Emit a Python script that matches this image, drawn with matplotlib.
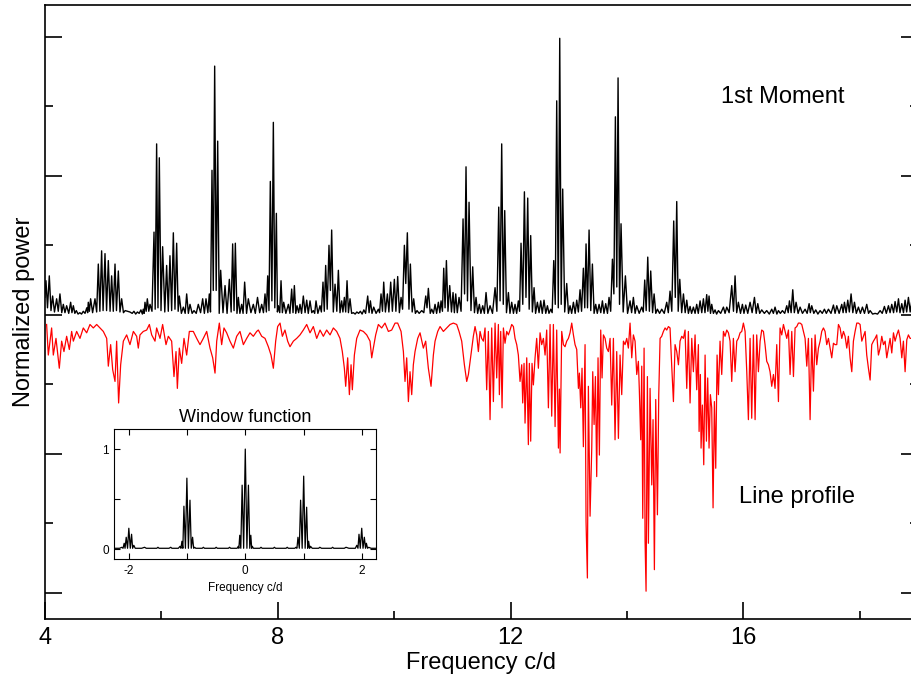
import numpy as np
import matplotlib
matplotlib.use('Agg')
import matplotlib.pyplot as plt

plt.rcParams['font.family'] = ['Liberation Sans', 'DejaVu Sans']
plt.rcParams['axes.unicode_minus'] = False

#%% data
# 1st moment periodogram: (frequency c/d, normalized power)
moment_pts = [
    (4.00, 0.25), (4.019, 0.49), (4.045, 0.10), (4.076, 0.56), (4.105, 0.06), (4.133, 0.27), (4.165, 0.04),
    (4.202, 0.23), (4.23, 0.05), (4.259, 0.30), (4.29, 0.03), (4.317, 0.15), (4.345, 0.03), (4.374, 0.13),
    (4.41, 0.02), (4.443, 0.18), (4.465, 0.03), (4.489, 0.13), (4.515, 0.02), (4.54, 0.06), (4.57, 0.01),
    (4.60, 0.03), (4.63, 0.01), (4.66, 0.05), (4.69, 0.02), (4.72, 0.10), (4.735, 0.03), (4.746, 0.18),
    (4.765, 0.05), (4.786, 0.23), (4.82, 0.03), (4.861, 0.23), (4.89, 0.04), (4.918, 0.73), (4.945, 0.05),
    (4.975, 0.92), (5.00, 0.06), (5.033, 0.88), (5.06, 0.06), (5.09, 0.78), (5.12, 0.05), (5.147, 0.56),
    (5.175, 0.05), (5.205, 0.73), (5.23, 0.06), (5.262, 0.63), (5.29, 0.04), (5.319, 0.23), (5.35, 0.03),
    (5.38, 0.06), (5.42, 0.05), (5.46, 0.04), (5.50, 0.02), (5.53, 0.05), (5.56, 0.01), (5.59, 0.04),
    (5.62, 0.02), (5.65, 0.07), (5.675, 0.01), (5.69, 0.08), (5.705, 0.02), (5.72, 0.18), (5.74, 0.05),
    (5.76, 0.23), (5.785, 0.05), (5.806, 0.15), (5.84, 0.05), (5.875, 1.19), (5.895, 0.08), (5.92, 2.46),
    (5.943, 0.10), (5.966, 2.26), (5.995, 0.06), (6.023, 0.98), (6.06, 0.04), (6.092, 0.71), (6.12, 0.05),
    (6.149, 0.85), (6.178, 0.06), (6.207, 1.18), (6.235, 0.08), (6.264, 1.03), (6.29, 0.05), (6.31, 0.27),
    (6.345, 0.02), (6.379, 0.11), (6.41, 0.02), (6.436, 0.30), (6.465, 0.02), (6.493, 0.15), (6.53, 0.02),
    (6.562, 0.06), (6.60, 0.02), (6.636, 0.15), (6.675, 0.03), (6.711, 0.23), (6.74, 0.02), (6.768, 0.23),
    (6.80, 0.03), (6.825, 0.30), (6.845, 0.04), (6.871, 2.08), (6.893, 0.35), (6.917, 3.58), (6.943, 0.35),
    (6.969, 2.50), (6.995, 0.02), (7.02, 0.64), (7.06, 0.03), (7.095, 0.42), (7.13, 0.02), (7.169, 0.51),
    (7.20, 0.04), (7.226, 1.02), (7.25, 0.06), (7.272, 1.03), (7.30, 0.02), (7.324, 0.25), (7.35, 0.02),
    (7.381, 0.15), (7.405, 0.02), (7.432, 0.47), (7.465, 0.02), (7.495, 0.23), (7.54, 0.03), (7.581, 0.15),
    (7.615, 0.02), (7.653, 0.25), (7.69, 0.03), (7.725, 0.15), (7.755, 0.03), (7.782, 0.30), (7.805, 0.04),
    (7.828, 0.56), (7.85, 0.06), (7.873, 1.92), (7.90, 0.20), (7.925, 2.77), (7.95, 0.10), (7.977, 1.46),
    (7.995, 0.04), (8.011, 0.13), (8.035, 0.03), (8.057, 0.49), (8.08, 0.03), (8.103, 0.18), (8.14, 0.02),
    (8.183, 0.15), (8.21, 0.02), (8.24, 0.37), (8.263, 0.03), (8.286, 0.42), (8.31, 0.02), (8.332, 0.13),
    (8.36, 0.03), (8.383, 0.15), (8.41, 0.02), (8.44, 0.27), (8.47, 0.03), (8.498, 0.21), (8.525, 0.02),
    (8.555, 0.20), (8.585, 0.03), (8.612, 0.06), (8.635, 0.02), (8.658, 0.20), (8.69, 0.02), (8.727, 0.13),
    (8.75, 0.04), (8.778, 0.47), (8.80, 0.05), (8.824, 0.71), (8.85, 0.08), (8.881, 1.00), (8.905, 0.35),
    (8.927, 1.22), (8.955, 0.04), (8.985, 0.44), (9.015, 0.05), (9.042, 0.64), (9.07, 0.03), (9.099, 0.20),
    (9.12, 0.04), (9.145, 0.25), (9.168, 0.04), (9.191, 0.49), (9.215, 0.03), (9.242, 0.23), (9.27, 0.02),
    (9.30, 0.03), (9.33, 0.01), (9.36, 0.04), (9.39, 0.02), (9.42, 0.05), (9.45, 0.01), (9.48, 0.07),
    (9.51, 0.02), (9.546, 0.27), (9.57, 0.03), (9.592, 0.20), (9.62, 0.02), (9.649, 0.11), (9.69, 0.02),
    (9.729, 0.08), (9.75, 0.03), (9.775, 0.30), (9.80, 0.05), (9.821, 0.47), (9.85, 0.04), (9.884, 0.30),
    (9.91, 0.04), (9.941, 0.47), (9.97, 0.05), (10.004, 0.51), (10.03, 0.05), (10.061, 0.55), (10.09, 0.03),
    (10.119, 0.25), (10.145, 0.08), (10.176, 1.00), (10.20, 0.45), (10.227, 1.18), (10.255, 0.08),
    (10.279, 0.73), (10.31, 0.04), (10.336, 0.23), (10.365, 0.02), (10.393, 0.06), (10.43, 0.02),
    (10.474, 0.06), (10.51, 0.03), (10.543, 0.27), (10.565, 0.10), (10.588, 0.38), (10.62, 0.02),
    (10.646, 0.08), (10.675, 0.02), (10.703, 0.15), (10.73, 0.02), (10.76, 0.18), (10.785, 0.03),
    (10.806, 0.20), (10.83, 0.05), (10.852, 0.67), (10.875, 0.10), (10.898, 0.78), (10.925, 0.05),
    (10.955, 0.42), (10.985, 0.04), (11.012, 0.32), (11.035, 0.03), (11.058, 0.30), (11.085, 0.03),
    (11.115, 0.25), (11.15, 0.05), (11.184, 1.38), (11.21, 0.30), (11.235, 2.13), (11.26, 0.20),
    (11.287, 1.62), (11.32, 0.06), (11.35, 0.69), (11.38, 0.03), (11.407, 0.25), (11.435, 0.02),
    (11.464, 0.15), (11.49, 0.02), (11.522, 0.13), (11.55, 0.02), (11.579, 0.32), (11.61, 0.02),
    (11.648, 0.13), (11.69, 0.02), (11.734, 0.39), (11.765, 0.05), (11.797, 1.55), (11.82, 0.20),
    (11.848, 2.46), (11.875, 0.15), (11.90, 1.50), (11.93, 0.03), (11.963, 0.32), (11.99, 0.02),
    (12.02, 0.18), (12.05, 0.02), (12.077, 0.15), (12.105, 0.02), (12.134, 0.20), (12.155, 0.05),
    (12.18, 1.03), (12.21, 0.15), (12.238, 1.77), (12.265, 0.25), (12.295, 1.68), (12.32, 0.08),
    (12.346, 1.14), (12.375, 0.04), (12.404, 0.39), (12.43, 0.02), (12.461, 0.18), (12.49, 0.03),
    (12.518, 0.20), (12.545, 0.02), (12.575, 0.21), (12.605, 0.02), (12.633, 0.13), (12.66, 0.02),
    (12.69, 0.08), (12.715, 0.03), (12.742, 0.78), (12.768, 0.15), (12.793, 3.08), (12.82, 0.10),
    (12.845, 3.98), (12.87, 0.15), (12.896, 1.81), (12.93, 0.04), (12.965, 0.45), (12.995, 0.02),
    (13.022, 0.13), (13.05, 0.02), (13.08, 0.18), (13.11, 0.02), (13.137, 0.21), (13.165, 0.04),
    (13.194, 0.36), (13.22, 0.05), (13.251, 0.67), (13.275, 0.10), (13.297, 1.02), (13.322, 0.10),
    (13.349, 1.22), (13.378, 0.06), (13.406, 0.73), (13.435, 0.02), (13.463, 0.15), (13.49, 0.02),
    (13.521, 0.15), (13.55, 0.03), (13.578, 0.20), (13.605, 0.02), (13.635, 0.16), (13.665, 0.02),
    (13.692, 0.25), (13.72, 0.05), (13.75, 0.80), (13.775, 0.30), (13.801, 2.85), (13.825, 0.40),
    (13.847, 3.41), (13.872, 0.15), (13.898, 1.31), (13.935, 0.04), (13.973, 0.56), (14.01, 0.02),
    (14.053, 0.20), (14.08, 0.03), (14.11, 0.25), (14.14, 0.02), (14.167, 0.13), (14.21, 0.02),
    (14.253, 0.11), (14.28, 0.04), (14.305, 0.50), (14.33, 0.06), (14.357, 0.83), (14.385, 0.05),
    (14.408, 0.63), (14.44, 0.03), (14.466, 0.30), (14.495, 0.02), (14.523, 0.08), (14.56, 0.02),
    (14.597, 0.08), (14.64, 0.02), (14.683, 0.18), (14.71, 0.03), (14.74, 0.34), (14.77, 0.05),
    (14.803, 1.35), (14.83, 0.25), (14.855, 1.63), (14.88, 0.05), (14.907, 0.51), (14.94, 0.03),
    (14.97, 0.30), (15.00, 0.03), (15.027, 0.21), (15.055, 0.02), (15.084, 0.12), (15.11, 0.02),
    (15.141, 0.11), (15.17, 0.02), (15.198, 0.15), (15.225, 0.02), (15.256, 0.20), (15.285, 0.03),
    (15.313, 0.23), (15.34, 0.03), (15.37, 0.29), (15.39, 0.05), (15.41, 0.27), (15.435, 0.02),
    (15.456, 0.15), (15.485, 0.02), (15.513, 0.07), (15.54, 0.01), (15.571, 0.06), (15.61, 0.02),
    (15.657, 0.11), (15.685, 0.02), (15.714, 0.11), (15.755, 0.03), (15.80, 0.42), (15.83, 0.05),
    (15.857, 0.56), (15.885, 0.03), (15.914, 0.18), (15.95, 0.02), (15.983, 0.15), (16.01, 0.02),
    (16.04, 0.14), (16.075, 0.02), (16.115, 0.18), (16.15, 0.03), (16.19, 0.25), (16.22, 0.02),
    (16.247, 0.16), (16.28, 0.02), (16.315, 0.07), (16.36, 0.02), (16.401, 0.06), (16.445, 0.01),
    (16.487, 0.08), (16.515, 0.02), (16.544, 0.11), (16.575, 0.01), (16.602, 0.06), (16.635, 0.02),
    (16.67, 0.06), (16.71, 0.02), (16.745, 0.13), (16.77, 0.03), (16.791, 0.20), (16.82, 0.03),
    (16.848, 0.36), (16.875, 0.03), (16.905, 0.18), (16.94, 0.02), (16.974, 0.11), (17.015, 0.02),
    (17.06, 0.08), (17.095, 0.02), (17.129, 0.16), (17.15, 0.03), (17.174, 0.13), (17.21, 0.02),
    (17.243, 0.07), (17.28, 0.01), (17.318, 0.06), (17.355, 0.02), (17.392, 0.08), (17.425, 0.02),
    (17.461, 0.08), (17.505, 0.02), (17.547, 0.14), (17.575, 0.02), (17.604, 0.13), (17.645, 0.02),
    (17.69, 0.15), (17.713, 0.03), (17.736, 0.18), (17.765, 0.03), (17.793, 0.21), (17.82, 0.04),
    (17.85, 0.30), (17.88, 0.03), (17.908, 0.18), (17.94, 0.02), (17.976, 0.11), (18.01, 0.02),
    (18.045, 0.11), (18.08, 0.02), (18.119, 0.15), (18.15, 0.02), (18.177, 0.06), (18.22, 0.01),
    (18.263, 0.02), (18.305, 0.01), (18.349, 0.06), (18.385, 0.02), (18.423, 0.12), (18.455, 0.02),
    (18.492, 0.13), (18.52, 0.03), (18.549, 0.15), (18.58, 0.03), (18.606, 0.19), (18.635, 0.04),
    (18.664, 0.23), (18.69, 0.03), (18.721, 0.16), (18.75, 0.03), (18.778, 0.21), (18.805, 0.04),
    (18.835, 0.25), (18.865, 0.04), (18.893, 0.20),
]

# line profile periodogram (plotted downwards): (frequency c/d, normalized power)
profile_pts = [
    (4.03, 0.02), (4.059, 0.46), (4.116, 0.07), (4.145, 0.46), (4.191, 0.22), (4.248, 0.65), (4.288, 0.26),
    (4.328, 0.41), (4.374, 0.19), (4.42, 0.38), (4.46, 0.12), (4.489, 0.26), (4.546, 0.12), (4.603, 0.22),
    (4.66, 0.07), (4.718, 0.14), (4.775, 0.02), (4.832, 0.07), (4.89, 0.02), (4.947, 0.07), (5.004, 0.12),
    (5.062, 0.22), (5.09, 0.62), (5.13, 0.31), (5.165, 0.67), (5.205, 0.84), (5.233, 0.26), (5.267, 1.15),
    (5.302, 0.60), (5.348, 0.26), (5.405, 0.17), (5.462, 0.31), (5.52, 0.12), (5.577, 0.19), (5.605, 0.36),
    (5.634, 0.17), (5.691, 0.12), (5.749, 0.10), (5.795, 0.02), (5.835, 0.17), (5.892, 0.26), (5.92, 0.07),
    (5.978, 0.22), (6.023, 0.02), (6.081, 0.31), (6.121, 0.19), (6.178, 0.26), (6.218, 0.77), (6.253, 0.41),
    (6.276, 0.94), (6.31, 0.36), (6.35, 0.58), (6.39, 0.22), (6.436, 0.46), (6.482, 0.12), (6.55, 0.12),
    (6.608, 0.22), (6.665, 0.31), (6.722, 0.22), (6.78, 0.12), (6.837, 0.36), (6.883, 0.50), (6.923, 0.72),
    (6.952, 0.26), (6.997, 0.0), (7.037, 0.31), (7.077, 0.07), (7.123, 0.14), (7.18, 0.26), (7.238, 0.36),
    (7.295, 0.19), (7.352, 0.12), (7.41, 0.31), (7.467, 0.22), (7.524, 0.14), (7.581, 0.19), (7.639, 0.12),
    (7.667, 0.10), (7.725, 0.19), (7.782, 0.22), (7.839, 0.34), (7.885, 0.46), (7.925, 0.65), (7.965, 0.26),
    (7.999, 0.05), (8.04, 0.0), (8.08, 0.19), (8.125, 0.10), (8.171, 0.26), (8.211, 0.34), (8.269, 0.26),
    (8.326, 0.22), (8.383, 0.17), (8.44, 0.10), (8.498, 0.02), (8.555, 0.14), (8.612, 0.05), (8.67, 0.22),
    (8.727, 0.10), (8.784, 0.19), (8.841, 0.10), (8.899, 0.17), (8.956, 0.07), (9.013, 0.12), (9.07, 0.22),
    (9.11, 0.41), (9.145, 0.65), (9.168, 0.91), (9.202, 0.50), (9.231, 1.03), (9.26, 0.60), (9.282, 0.96),
    (9.317, 0.46), (9.357, 0.22), (9.414, 0.10), (9.471, 0.12), (9.529, 0.17), (9.586, 0.26), (9.615, 0.50),
    (9.643, 0.36), (9.683, 0.17), (9.729, 0.02), (9.786, 0.07), (9.843, 0.0), (9.901, 0.12), (9.958, 0.10),
    (10.016, 0.0), (10.061, 0.0), (10.119, 0.12), (10.159, 0.41), (10.187, 0.84), (10.216, 0.50),
    (10.245, 1.13), (10.273, 0.70), (10.302, 1.03), (10.33, 0.60), (10.359, 0.41), (10.405, 0.22),
    (10.445, 0.14), (10.502, 0.36), (10.542, 0.26), (10.588, 0.65), (10.634, 0.91), (10.674, 0.46),
    (10.703, 0.26), (10.749, 0.12), (10.789, 0.05), (10.846, 0.12), (10.903, 0.07), (10.961, 0.02),
    (11.018, 0.0), (11.075, 0.02), (11.115, 0.12), (11.161, 0.26), (11.207, 0.60), (11.247, 0.84),
    (11.276, 0.74), (11.32, 0.45), (11.361, 0.19), (11.39, 0.05), (11.419, 0.17), (11.447, 0.41),
    (11.476, 0.12), (11.504, 0.22), (11.533, 0.26), (11.562, 0.07), (11.59, 0.96), (11.619, 0.12),
    (11.648, 1.39), (11.676, 0.07), (11.705, 1.13), (11.734, 0.0), (11.762, 0.79), (11.791, 0.02),
    (11.808, 1.03), (11.831, 0.12), (11.854, 1.22), (11.877, 0.07), (11.905, 0.29), (11.934, 0.12),
    (11.963, 0.17), (11.991, 0.10), (12.02, 0.02), (12.049, 0.05), (12.077, 0.22), (12.106, 0.31),
    (12.134, 0.46), (12.163, 0.84), (12.192, 0.60), (12.209, 1.15), (12.232, 0.58), (12.249, 1.44),
    (12.278, 0.50), (12.306, 1.75), (12.323, 0.58), (12.346, 1.70), (12.369, 0.58), (12.392, 0.89),
    (12.421, 0.50), (12.449, 0.22), (12.478, 0.65), (12.507, 0.14), (12.535, 0.31), (12.564, 0.22),
    (12.593, 0.46), (12.621, 0.10), (12.65, 1.22), (12.679, 0.02), (12.707, 1.34), (12.736, 0.02),
    (12.765, 1.49), (12.793, 0.10), (12.822, 1.80), (12.839, 0.95), (12.851, 1.87), (12.879, 0.12),
    (12.908, 0.31), (12.936, 0.34), (12.965, 0.26), (12.994, 0.22), (13.022, 0.14), (13.051, 0.0),
    (13.08, 0.17), (13.108, 0.31), (13.137, 0.38), (13.166, 0.94), (13.183, 0.72), (13.206, 1.22),
    (13.228, 0.65), (13.251, 1.78), (13.28, 0.31), (13.297, 2.86), (13.32, 3.67), (13.337, 0.91),
    (13.366, 2.78), (13.395, 1.80), (13.412, 0.70), (13.435, 1.46), (13.458, 0.77), (13.48, 2.21),
    (13.503, 0.50), (13.526, 1.90), (13.549, 0.10), (13.572, 0.79), (13.595, 0.17), (13.624, 0.22),
    (13.652, 0.36), (13.681, 0.41), (13.71, 0.22), (13.738, 1.18), (13.767, 0.22), (13.795, 1.68),
    (13.824, 0.41), (13.853, 1.66), (13.881, 0.46), (13.91, 1.03), (13.939, 0.26), (13.967, 0.31),
    (13.996, 0.22), (14.024, 0.36), (14.053, 0.0), (14.082, 0.50), (14.11, 0.17), (14.139, 0.26),
    (14.168, 0.74), (14.196, 0.55), (14.213, 0.98), (14.236, 1.68), (14.254, 0.62), (14.271, 2.81),
    (14.294, 0.36), (14.311, 3.14), (14.328, 3.86), (14.351, 0.77), (14.368, 3.17), (14.397, 0.94),
    (14.426, 2.33), (14.448, 1.39), (14.471, 3.55), (14.494, 1.10), (14.523, 2.76), (14.546, 1.03),
    (14.569, 0.22), (14.597, 0.19), (14.626, 0.12), (14.655, 0.07), (14.683, 0.10), (14.712, 0.05),
    (14.74, 0.07), (14.769, 0.62), (14.798, 1.13), (14.826, 0.31), (14.855, 0.41), (14.884, 0.60),
    (14.912, 0.26), (14.941, 0.19), (14.97, 0.22), (14.998, 0.10), (15.027, 0.94), (15.055, 0.12),
    (15.084, 1.15), (15.113, 0.22), (15.141, 0.70), (15.17, 0.17), (15.198, 0.96), (15.227, 0.31),
    (15.239, 1.56), (15.261, 0.74), (15.273, 1.80), (15.296, 1.18), (15.319, 2.04), (15.342, 0.46),
    (15.365, 1.70), (15.387, 0.79), (15.41, 1.80), (15.433, 1.03), (15.456, 1.22), (15.479, 2.66),
    (15.502, 1.13), (15.525, 2.09), (15.548, 0.46), (15.571, 1.03), (15.599, 0.26), (15.628, 0.74),
    (15.657, 0.12), (15.685, 0.19), (15.714, 0.10), (15.743, 0.14), (15.771, 0.26), (15.80, 0.84),
    (15.828, 0.22), (15.857, 0.70), (15.886, 0.26), (15.914, 0.22), (15.943, 0.14), (15.972, 0.12),
    (16.0, 0.0), (16.029, 0.12), (16.058, 0.70), (16.086, 1.39), (16.115, 0.22), (16.143, 1.37),
    (16.172, 0.17), (16.201, 1.39), (16.229, 0.17), (16.258, 0.70), (16.287, 0.26), (16.315, 0.10),
    (16.344, 0.12), (16.372, 0.31), (16.401, 0.55), (16.43, 0.60), (16.458, 0.70), (16.487, 0.91),
    (16.516, 0.74), (16.544, 0.94), (16.573, 0.31), (16.602, 1.13), (16.63, 0.07), (16.659, 0.17),
    (16.688, 0.02), (16.716, 0.12), (16.745, 0.22), (16.774, 0.10), (16.802, 0.74), (16.831, 0.12),
    (16.86, 0.77), (16.888, 0.07), (16.917, 0.05), (16.945, 0.0), (16.974, 0.0), (17.003, 0.02),
    (17.031, 0.12), (17.06, 0.22), (17.089, 0.62), (17.117, 0.22), (17.146, 1.39), (17.174, 0.22),
    (17.203, 0.98), (17.232, 0.17), (17.26, 0.60), (17.289, 0.36), (17.318, 0.26), (17.346, 0.12),
    (17.375, 0.07), (17.403, 0.12), (17.432, 0.31), (17.461, 0.22), (17.489, 0.36), (17.518, 0.50),
    (17.547, 0.29), (17.575, 0.31), (17.604, 0.31), (17.633, 0.02), (17.661, 0.07), (17.69, 0.22),
    (17.719, 0.12), (17.747, 0.19), (17.776, 0.36), (17.804, 0.19), (17.833, 0.50), (17.862, 0.70),
    (17.89, 0.26), (17.919, 0.12), (17.948, 0.0), (17.976, 0.0), (18.005, 0.02), (18.034, 0.26),
    (18.062, 0.19), (18.091, 0.12), (18.119, 0.46), (18.148, 0.65), (18.177, 0.82), (18.205, 0.31),
    (18.234, 0.26), (18.263, 0.22), (18.291, 0.17), (18.32, 0.46), (18.349, 0.36), (18.377, 0.19),
    (18.406, 0.31), (18.435, 0.26), (18.463, 0.50), (18.492, 0.36), (18.52, 0.22), (18.549, 0.43),
    (18.578, 0.14), (18.606, 0.26), (18.635, 0.17), (18.664, 0.10), (18.692, 0.22), (18.721, 0.50),
    (18.749, 0.26), (18.778, 0.70), (18.807, 0.24), (18.835, 0.17), (18.864, 0.22), (18.893, 0.22),
]

# spectral window: (frequency c/d, power)
window_pts = [
    (-2.25, 0.01), (-2.16, 0.01), (-2.12, 0.02), (-2.10, 0.01), (-2.08, 0.06), (-2.065, 0.01),
    (-2.045, 0.12), (-2.022, 0.01), (-2.0, 0.21), (-1.975, 0.01), (-1.953, 0.15), (-1.935, 0.01),
    (-1.915, 0.04), (-1.89, 0.01), (-1.78, 0.01), (-1.73, 0.02), (-1.70, 0.01), (-1.52, 0.01),
    (-1.50, 0.02), (-1.48, 0.01), (-1.31, 0.01), (-1.28, 0.02), (-1.26, 0.01), (-1.15, 0.01),
    (-1.12, 0.03), (-1.105, 0.01), (-1.088, 0.08), (-1.072, 0.01), (-1.054, 0.43), (-1.028, 0.01),
    (-1.003, 0.71), (-0.977, 0.01), (-0.95, 0.49), (-0.928, 0.01), (-0.905, 0.12), (-0.887, 0.01),
    (-0.87, 0.02), (-0.85, 0.01), (-0.74, 0.01), (-0.72, 0.02), (-0.70, 0.01), (-0.52, 0.01),
    (-0.50, 0.02), (-0.48, 0.01), (-0.29, 0.01), (-0.27, 0.02), (-0.25, 0.01), (-0.14, 0.01),
    (-0.12, 0.03), (-0.11, 0.01), (-0.095, 0.14), (-0.077, 0.01), (-0.054, 0.64), (-0.028, 0.01),
    (0.0, 1.0), (0.028, 0.01), (0.054, 0.64), (0.077, 0.01), (0.095, 0.14), (0.11, 0.01),
    (0.12, 0.03), (0.14, 0.01), (0.25, 0.01), (0.27, 0.02), (0.29, 0.01), (0.48, 0.01),
    (0.50, 0.02), (0.52, 0.01), (0.70, 0.01), (0.72, 0.02), (0.74, 0.01), (0.85, 0.01),
    (0.87, 0.02), (0.887, 0.01), (0.905, 0.12), (0.928, 0.01), (0.95, 0.49), (0.977, 0.01),
    (1.003, 0.73), (1.028, 0.01), (1.054, 0.42), (1.072, 0.01), (1.088, 0.08), (1.105, 0.01),
    (1.12, 0.03), (1.15, 0.01), (1.26, 0.01), (1.28, 0.02), (1.31, 0.01), (1.48, 0.01),
    (1.50, 0.02), (1.52, 0.01), (1.70, 0.01), (1.73, 0.02), (1.78, 0.01), (1.89, 0.01),
    (1.915, 0.04), (1.935, 0.01), (1.953, 0.15), (1.975, 0.01), (2.0, 0.21), (2.022, 0.01),
    (2.045, 0.12), (2.065, 0.01), (2.08, 0.06), (2.10, 0.01), (2.12, 0.02), (2.16, 0.01),
    (2.25, 0.01),
]

x_major = [4, 8, 12, 16]
x_minor = [6, 10, 14, 18]
win_ticks = [-2, -1, 0, 1, 2]
win_ticklabels = ['-2', '', '0', '', '2']

#%%
mom_f, mom_p = np.array(moment_pts).T
prof_f, prof_p = np.array(profile_pts).T
win_f, win_p = np.array(window_pts).T

profile_offset = 0.12   # line profile curve is drawn below the 1st moment one

fig = plt.figure(figsize=(9.12, 6.82), dpi=100)
ax = fig.add_axes([0.0492, 0.0924, 0.9574, 0.9003])

ax.plot(mom_f, mom_p, color='k', lw=1.0)
ax.plot(prof_f, -(profile_offset + prof_p), color='red', lw=0.9)

ax.set_xlim(4, 19)
ax.set_ylim(-4.38, 4.46)
ax.set_xticks(x_major)
ax.set_xticks(x_minor, minor=True)
ax.set_yticks([-4, -2, 0, 2, 4])
ax.set_yticks([-3, -1, 1, 3], minor=True)
ax.set_yticklabels([])
ax.tick_params(which='both', direction='in', left=True, right=True, top=False,
               labelsize=17, pad=6, width=1.2)
ax.tick_params(which='major', length=12)
ax.tick_params(which='minor', length=6)
for s in ax.spines.values():
    s.set_linewidth(1.2)

ax.set_xlabel('Frequency c/d', fontsize=17, labelpad=2)
ax.set_ylabel('Normalized power', fontsize=17, labelpad=1)

ax.text(16.68, 3.14, '1st Moment', fontsize=17, ha='center', va='center')
ax.text(16.92, -2.63, 'Line profile', fontsize=17, ha='center', va='center')

# inset: window function
ins = fig.add_axes([0.1253, 0.1799, 0.2873, 0.191])
ins.plot(win_f, win_p, color='k', lw=0.9)
ins.set_xlim(-2.25, 2.25)
ins.set_ylim(-0.1, 1.2)
ins.set_xticks(win_ticks)
ins.set_xticklabels(win_ticklabels)
ins.set_yticks([0, 0.5, 1])
ins.set_yticklabels(['0', '', '1'])
ins.tick_params(direction='in', top=True, right=True, labelsize=8.5, length=4, pad=4)
ins.set_title('Window function', fontsize=13, pad=5)
ins.set_xlabel('Frequency c/d', fontsize=8.5, labelpad=4)

fig.savefig('out.png', dpi=100)
